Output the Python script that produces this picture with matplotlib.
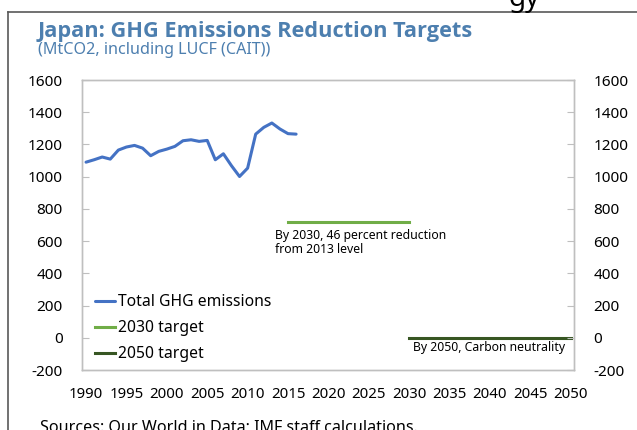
import matplotlib
matplotlib.use("Agg")
import matplotlib.pyplot as plt
from matplotlib.lines import Line2D

plt.rcParams['font.family'] = ['Noto Sans', 'DejaVu Sans']
plt.rcParams['axes.unicode_minus'] = False

# Data
years = list(range(1990, 2017))
emissions = [1090, 1105, 1122, 1109, 1165, 1184, 1194, 1177, 1130, 1157,
             1171, 1188, 1223, 1229, 1219, 1225, 1105, 1142, 1068, 1001,
             1053, 1264, 1306, 1333, 1296, 1267, 1264]
target2030_years = [2015, 2030]
target2030_vals = [720, 720]
target2050_years = [2030, 2050]
target2050_vals = [0, 0]
xticks = list(range(1990, 2051, 5))
yticks = list(range(-200, 1601, 200))

W, H = 637, 430
fig = plt.figure(figsize=(W / 100, H / 100), dpi=100)

def fx(px):
    return px / W

def fy(py):
    return 1 - py / H

ax = fig.add_axes([fx(82), fy(370), fx(574) - fx(82), fy(80) - fy(370)])
ax2 = ax.twinx()

blue = '#4472C4'
lgreen = '#70AD47'
dgreen = '#375623'
spine_c = '#BFBFBF'

l1, = ax.plot(years, emissions, color=blue, lw=2.2, solid_capstyle='round')
l2, = ax.plot(target2030_years, target2030_vals, color=lgreen, lw=2.2)
l3, = ax.plot(target2050_years, target2050_vals, color=dgreen, lw=2.2)

ax.set_xlim(1989.5, 2050.4)
ax.set_ylim(-200, 1600)
ax2.set_ylim(-200, 1600)
ax.set_xticks(xticks)
ax.set_yticks(yticks)
ax2.set_yticks(yticks)
ax.set_xticklabels([str(x) for x in xticks])

for a in (ax, ax2):
    for s in a.spines.values():
        s.set_color(spine_c)
        s.set_linewidth(1.0)
ax.tick_params(axis='y', direction='in', length=5, color=spine_c, labelsize=11, pad=14)
ax2.tick_params(axis='y', direction='in', length=5, color=spine_c, labelsize=11, pad=14)
ax.tick_params(axis='x', length=0, labelsize=10.8, pad=12)

ax.annotate("By 2030, 46 percent reduction\nfrom 2013 level", xy=(2013.4, 677),
            fontsize=8.8, va='top', ha='left', linespacing=1.15)
ax.annotate("By 2050, Carbon neutrality", xy=(2049.3, -62),
            fontsize=8.8, va='center', ha='right')

leg = ax.legend([l1, l2, l3], ["Total GHG emissions", "2030 target", "2050 target"],
                loc='upper left', bbox_to_anchor=(0.026, 0.262), frameon=False,
                fontsize=11.3, handlelength=1.3, handletextpad=0.15,
                labelspacing=0.65, borderpad=0, borderaxespad=0)

title_c = '#4D7FAF'
fig.text(fx(38), fy(31), "Japan: GHG Emissions Reduction Targets", fontsize=15.7,
         fontweight='bold', color=title_c, va='center', ha='left',
         family=['Open Sans', 'DejaVu Sans'])
fig.text(fx(38), fy(49.5), "(MtCO2, including LUCF (CAIT))", fontsize=11.6,
         color=title_c, va='center', ha='left')
fig.text(fx(40), fy(432), "Sources: Our World in Data; IMF staff calculations.",
         fontsize=11.6, va='baseline', ha='left')
fig.text(fx(508), fy(6), "gy", fontsize=20, va='baseline', ha='left')

# frame
fig.add_artist(Line2D([fx(8), fx(8)], [fy(12), fy(440)], color='#595959', lw=1.2,
                      transform=fig.transFigure))
fig.add_artist(Line2D([fx(8), fx(640)], [fy(12), fy(12)], color='#595959', lw=1.2,
                      transform=fig.transFigure))

fig.savefig("out.png", dpi=100)
